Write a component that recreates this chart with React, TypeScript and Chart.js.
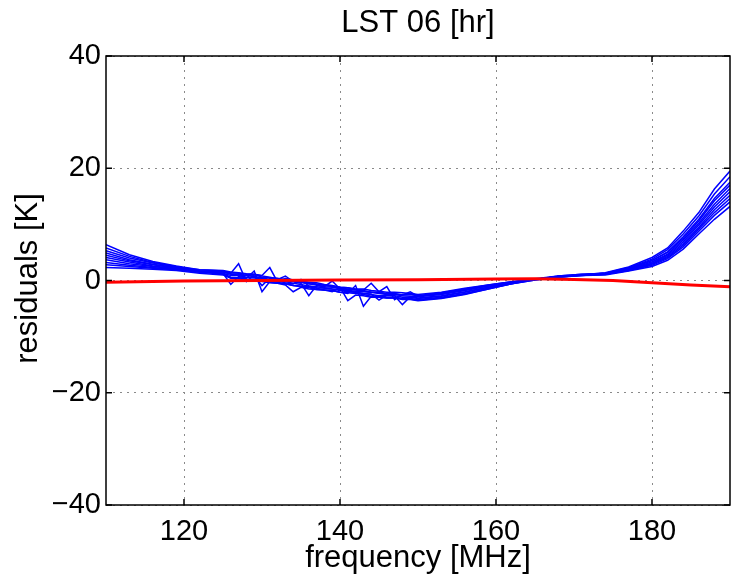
import React, { useEffect, useRef } from 'react';
import { Chart, registerables } from 'chart.js';

Chart.register(...registerables);

// Frequency samples (MHz) shared by all residual curves
const FREQ = [110, 113, 116, 119, 122, 125, 126, 127, 128, 129, 130, 131, 132, 133, 134, 135, 136, 137, 138, 139, 140, 141, 142, 143, 144, 145, 146, 147, 148, 149, 150, 153, 156, 159, 162, 165, 168, 171, 174, 177, 180, 182, 184, 186, 188, 190];

// Residual curves (K), blue
const S1 = [6.4, 4.6, 3.4, 2.6, 1.9, 1.7, 1.3, 3.0, -0.2, 1.0, 0.6, 0.5, 0.4, 0.1, 0.0, -0.3, -0.6, -0.7, -0.8, -1.1, -1.4, -1.5, -1.6, -1.8, -2.1, -2.1, -2.3, -2.3, -2.6, -2.5, -2.7, -2.3, -1.6, -0.9, -0.3, 0.2, 0.7, 1.0, 1.4, 2.4, 4.1, 5.8, 8.8, 12.1, 16.3, 19.5];
const S2 = [5.8, 4.3, 3.2, 2.5, 1.7, 1.2, 0.6, 0.5, 0.4, 1.7, -2.0, -0.2, -0.3, -0.6, -0.9, -1.0, -1.1, -1.4, -1.7, -1.8, -2.1, -2.2, -2.3, -2.5, -2.8, -2.8, -3.0, -3.0, -3.3, -3.2, -3.4, -3.0, -2.3, -1.4, -0.6, 0.2, 0.6, 1.0, 1.3, 2.3, 3.8, 5.5, 8.3, 11.5, 15.4, 18.5];
const S3 = [5.3, 4.0, 3.1, 2.4, 1.9, 1.8, 1.5, 1.4, 1.2, 1.1, 0.9, 2.3, -0.3, 0.4, 0.1, -0.2, -0.3, -0.4, -0.7, -0.9, -1.2, -1.3, -1.5, -1.5, -1.8, -1.9, -2.1, -2.1, -2.2, -2.3, -2.5, -2.1, -1.4, -0.8, -0.2, 0.3, 0.8, 1.1, 1.3, 2.2, 3.6, 5.1, 7.8, 10.9, 14.6, 17.5];
const S4 = [4.9, 3.7, 2.9, 2.3, 1.6, 1.3, -0.7, 0.7, 0.5, 0.5, 0.2, 0.0, -0.1, -0.4, -0.6, 0.2, -1.0, -1.3, -1.4, -1.5, -1.8, -2.0, -2.1, -2.3, -2.5, -2.7, -2.7, -2.7, -3.0, -3.0, -3.2, -2.8, -2.1, -1.2, -0.5, 0.2, 0.7, 1.0, 1.3, 2.1, 3.5, 5.0, 7.5, 10.6, 14.2, 17.0];
const S5 = [4.5, 3.5, 2.8, 2.2, 1.7, 1.5, 1.1, 1.0, 0.9, 0.7, 0.5, 0.2, 0.1, -0.1, -0.2, -0.5, -2.7, -0.9, -1.1, -0.1, -1.5, -1.8, -1.9, -2.0, -2.1, -2.3, -2.5, -2.5, -2.7, -2.8, -2.9, -2.5, -1.8, -1.0, -0.4, 0.2, 0.7, 0.9, 1.2, 2.0, 3.3, 4.7, 7.2, 10.2, 13.6, 16.4];
const S6 = [4.1, 3.3, 2.6, 2.1, 1.5, 1.1, 0.5, 0.5, 0.2, 0.1, 0.0, -0.3, -0.5, -0.6, -0.9, -1.1, -1.3, -1.6, -1.7, -1.8, -2.1, -2.3, -0.9, -4.6, -2.8, -2.9, -3.1, -3.1, -3.2, -3.3, -3.5, -3.1, -2.4, -1.5, -0.6, 0.1, 0.6, 1.0, 1.2, 2.0, 3.1, 4.5, 6.9, 9.9, 13.1, 15.8];
const S7 = [3.7, 3.0, 2.5, 2.0, 1.7, 1.6, 1.4, 1.3, 1.1, 1.1, 0.8, 0.6, 0.3, 0.2, 0.0, -0.1, -0.4, -0.6, -0.9, -1.0, -1.2, -1.3, -1.6, -1.7, -0.5, -2.0, -1.1, -3.4, -2.5, -2.4, -2.7, -2.2, -1.5, -0.8, -0.2, 0.2, 0.8, 1.1, 1.2, 1.9, 3.0, 4.3, 6.6, 9.5, 12.6, 15.2];
const S8 = [3.2, 2.7, 2.3, 1.9, 1.5, 1.3, 0.9, 0.9, 0.6, 0.5, 0.4, 0.1, -0.1, -0.2, -0.5, -0.7, -1.0, -1.1, -1.3, -1.5, -1.6, -1.9, -2.1, -2.3, -2.4, -3.5, -2.6, -2.7, -4.3, -2.9, -3.1, -2.7, -2.0, -1.2, -0.4, 0.2, 0.7, 1.0, 1.1, 1.8, 2.9, 4.1, 6.3, 9.2, 12.1, 14.6];
const S9 = [2.8, 2.5, 2.2, 1.9, 1.5, 1.5, 1.2, 1.1, 0.9, 0.8, -0.9, 0.4, 0.2, 0.8, -0.2, -0.3, -0.6, -0.8, -1.1, -1.2, -1.4, -1.6, -1.7, -1.9, -2.1, -2.2, -2.4, -2.4, -2.6, -2.0, -2.8, -2.4, -1.7, -1.0, -0.3, 0.2, 0.7, 0.9, 1.1, 1.8, 2.7, 3.9, 6.0, 8.8, 11.6, 14.0];
const S10 = [2.3, 2.2, 2.0, 1.8, 1.3, 1.0, 0.4, 0.3, 0.1, 0.1, -0.2, -0.4, -0.5, -0.8, -2.0, -1.2, -1.5, -1.6, -1.7, -2.0, -1.2, -3.6, -2.6, -2.7, -3.0, -3.0, -3.1, -3.1, -3.4, -3.4, -3.6, -3.2, -2.5, -1.5, -0.6, 0.1, 0.6, 0.9, 1.0, 1.7, 2.5, 3.6, 5.6, 8.3, 10.9, 13.2];
const BLUE_SERIES = [S1, S2, S3, S4, S5, S6, S7, S8, S9, S10];

// Red reference curve
const RED_FREQ = [110, 120, 130, 140, 150, 160, 165, 170, 175, 180, 185, 190];
const RED_VALUES = [-0.3, -0.1, 0.0, 0.1, 0.15, 0.25, 0.3, 0.2, 0.0, -0.4, -0.8, -1.1];

const X_TICKS = [120, 140, 160, 180];
const Y_TICKS = [-40, -20, 0, 20, 40];
const X_MIN = 110;
const X_MAX = 190;
const Y_MIN = -40;
const Y_MAX = 40;

const TITLE = 'LST 06 [hr]';
const X_LABEL = 'frequency [MHz]';
const Y_LABEL = 'residuals [K]';

const FONT = "'Liberation Sans', Arial, Helvetica, sans-serif";

const matlabPlugin = {
  id: 'matlabFrame',
  afterDraw(chart: any) {
    const { ctx, chartArea: a, scales } = chart;
    ctx.save();
    ctx.strokeStyle = '#000';
    ctx.lineWidth = 1.5;
    ctx.setLineDash([]);
    ctx.strokeRect(a.left, a.top, a.right - a.left, a.bottom - a.top);
    const tl = 6;
    ctx.beginPath();
    X_TICKS.forEach((v) => {
      const px = scales.x.getPixelForValue(v);
      ctx.moveTo(px, a.bottom);
      ctx.lineTo(px, a.bottom - tl);
      ctx.moveTo(px, a.top);
      ctx.lineTo(px, a.top + tl);
    });
    Y_TICKS.forEach((v) => {
      const py = scales.y.getPixelForValue(v);
      ctx.moveTo(a.left, py);
      ctx.lineTo(a.left + tl, py);
      ctx.moveTo(a.right, py);
      ctx.lineTo(a.right - tl, py);
    });
    ctx.stroke();

    ctx.fillStyle = '#000';
    ctx.font = `31px ${FONT}`;
    ctx.textAlign = 'center';
    ctx.textBaseline = 'alphabetic';
    const cx = (a.left + a.right) / 2;
    ctx.fillText(TITLE, cx, a.top - 24);
    ctx.fillText(X_LABEL, cx, a.bottom + 62);
    ctx.translate(37, (a.top + a.bottom) / 2 - 2);
    ctx.rotate(-Math.PI / 2);
    ctx.fillText(Y_LABEL, 0, 0);
    ctx.restore();
  },
};

export default function App() {
  const canvasRef = useRef<HTMLCanvasElement | null>(null);

  useEffect(() => {
    const canvas = canvasRef.current;
    if (!canvas) return;

    const datasets: any[] = [
      {
        label: 'model',
        data: RED_FREQ.map((f, i) => ({ x: f, y: RED_VALUES[i] })),
        borderColor: 'rgb(255,0,0)',
        borderWidth: 3,
        pointRadius: 0,
        tension: 0,
        fill: false,
      },
      ...BLUE_SERIES.map((s, k) => ({
        label: `residual ${k + 1}`,
        data: FREQ.map((f, i) => ({ x: f, y: s[i] })),
        borderColor: 'rgb(0,0,255)',
        borderWidth: 1.5,
        pointRadius: 0,
        tension: 0,
        fill: false,
      })),
    ];

    const gridCommon = {
      color: '#8a8a8a',
      lineWidth: 1,
      drawTicks: false,
    };

    const chart = new Chart(canvas, {
      type: 'line',
      data: { datasets },
      plugins: [matlabPlugin],
      options: {
        animation: false,
        responsive: false,
        maintainAspectRatio: false,
        devicePixelRatio: 1,
        layout: { padding: { top: 56, right: 2, left: 0, bottom: 0 } },
        plugins: {
          legend: { display: false },
          title: { display: false },
          tooltip: { enabled: false },
        },
        scales: {
          x: {
            type: 'linear',
            min: X_MIN,
            max: X_MAX,
            afterBuildTicks: (scale: any) => {
              scale.ticks = X_TICKS.map((v) => ({ value: v }));
            },
            afterFit: (scale: any) => {
              scale.height = 72;
            },
            grid: gridCommon,
            border: { display: false, dash: [2, 5] },
            ticks: {
              padding: 10,
              color: '#000',
              font: { family: FONT, size: 29 },
              maxRotation: 0,
              callback: (v: any) => String(v),
            },
          },
          y: {
            type: 'linear',
            min: Y_MIN,
            max: Y_MAX,
            afterBuildTicks: (scale: any) => {
              scale.ticks = Y_TICKS.map((v) => ({ value: v }));
            },
            afterFit: (scale: any) => {
              scale.width = 106;
            },
            grid: gridCommon,
            border: { display: false, dash: [2, 5] },
            ticks: {
              padding: 5,
              color: '#000',
              font: { family: FONT, size: 29 },
              callback: (v: any) => (v < 0 ? '\u2212' + Math.abs(v) : String(v)),
            },
          },
        },
      } as any,
    });

    return () => {
      chart.destroy();
    };
  }, []);

  return (
    <div style={{ position: 'absolute', left: 0, top: 0, width: 732, height: 577, background: '#fff' }}>
      <canvas ref={canvasRef} width={732} height={577} style={{ display: 'block' }} />
    </div>
  );
}
